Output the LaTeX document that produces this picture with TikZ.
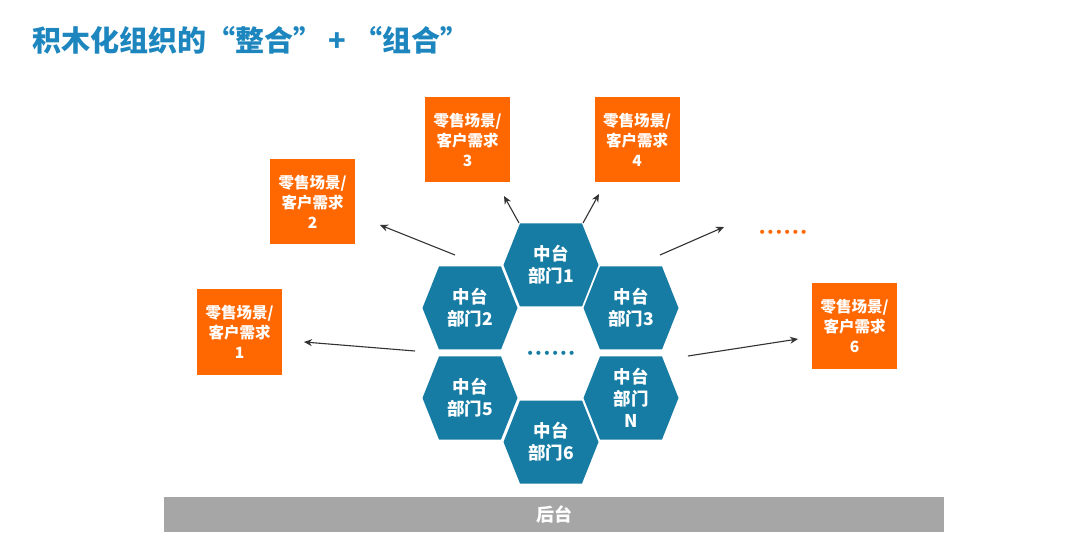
\documentclass[tikz,border=0pt]{standalone}
\usepackage{fontspec}
\setmainfont{Noto Sans CJK SC}
\newfontfamily\dotfont{DejaVu Sans}
\usetikzlibrary{arrows.meta}
\definecolor{hexblue}{RGB}{22,124,163}
\definecolor{titleblue}{RGB}{30,134,190}
\definecolor{boxorange}{RGB}{255,104,0}
\definecolor{bargray}{RGB}{166,166,166}
\definecolor{arrgray}{RGB}{50,50,50}
\tikzset{
  scenebox/.style={fill=boxorange, minimum width=85pt, minimum height=85pt, inner sep=0pt,
    text=white, font=\bfseries\fontsize{15.5}{20}\selectfont, align=center},
  hextext/.style={text=white, font=\bfseries\fontsize{17.5}{22}\selectfont, align=center, inner sep=0pt},
  hexfill/.style={fill=hexblue},
  arr/.style={draw=arrgray, line width=1.1pt, -{Stealth[length=8pt,width=7pt]}},
  dotrow/.style={font=\dotfont\fontsize{14}{16}\selectfont, inner sep=0pt},
}
\newcommand\hexcell[3]{%
  \fill[hexfill, shift={(#2)}] (-47.5,0) -- (-31,-41.5) -- (31,-41.5) -- (47.5,0) -- (31,41.5) -- (-31,41.5) -- cycle;
  \node[hextext] (#1) at (#2) {#3};}
\begin{document}
\begin{tikzpicture}[x=1pt,y=-1pt]
\useasboundingbox (0,0) rectangle (1080,548);
\fill[white] (0,0) rectangle (1080,548);
% title
\node[anchor=west, text=titleblue, font=\bfseries\fontsize{29}{34}\selectfont, inner sep=0pt] (title) at (32,40) {积木化组织的“整合” + “组合”};
% back-end bar
\node[fill=bargray, minimum width=780pt, minimum height=35pt, inner sep=0pt, text=white,
  font=\bfseries\fontsize{18}{22}\selectfont] (back) at (554,514) {后台};
% hexagons
\hexcell{h1}{551,265}{中台\\部门1}
\hexcell{h2}{470,308}{中台\\部门2}
\hexcell{h3}{631,308}{中台\\部门3}
\hexcell{h5}{470,398}{中台\\部门5}
\hexcell{hN}{631,398}{中台\\部门\\N}
\hexcell{h6}{551,442}{中台\\部门6}
\node[dotrow, text=hexblue] (mdots) at (551,355) {••••••};
% scenario boxes
\node[scenebox] (b1) at (239.5,332) {零售场景/\\客户需求\\1};
\node[scenebox] (b2) at (312.5,201.5) {零售场景/\\客户需求\\2};
\node[scenebox] (b3) at (467.5,139.5) {零售场景/\\客户需求\\3};
\node[scenebox] (b4) at (637,139.5) {零售场景/\\客户需求\\4};
\node[scenebox] (b6) at (854.5,326) {零售场景/\\客户需求\\6};
\node[dotrow, text=boxorange] (odots) at (783,234) {••••••};
% arrow end points
\coordinate (s1) at (415,351); \coordinate (t1) at (304,342);
\coordinate (s2) at (455,255); \coordinate (t2) at (380,225);
\coordinate (s3) at (519,223); \coordinate (t3) at (504,196);
\coordinate (s4) at (583,223); \coordinate (t4) at (599,194);
\coordinate (s5) at (660,255); \coordinate (t5) at (724,227);
\coordinate (s6) at (688,356); \coordinate (t6) at (798,339);
\draw[arr] (s1) -- (t1);
\draw[arr] (s2) -- (t2);
\draw[arr] (s3) -- (t3);
\draw[arr] (s4) -- (t4);
\draw[arr] (s5) -- (t5);
\draw[arr] (s6) -- (t6);
\end{tikzpicture}
\end{document}
